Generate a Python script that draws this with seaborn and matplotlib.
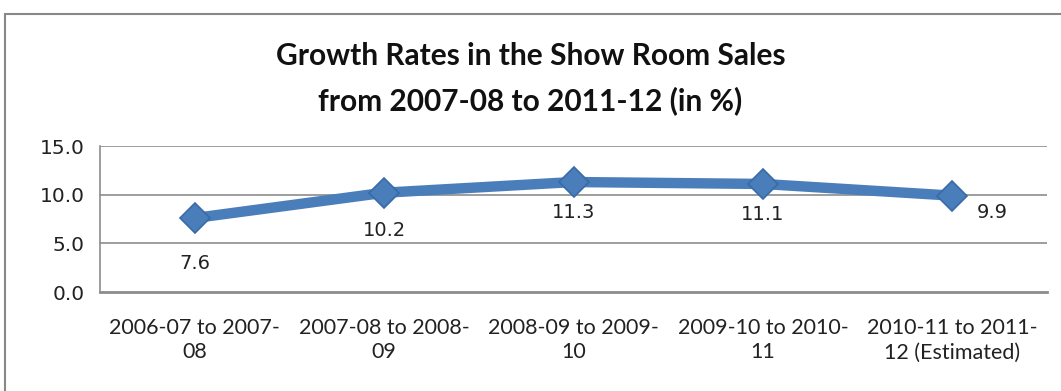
import pandas as pd
import seaborn as sns
import matplotlib.pyplot as plt
from matplotlib.patches import Rectangle

periods = ['2006-07 to 2007-\n08', '2007-08 to 2008-\n09', '2008-09 to 2009-\n10',
           '2009-10 to 2010-\n11', '2010-11 to 2011-\n12 (Estimated)']
growth = [7.6, 10.2, 11.3, 11.1, 9.9]
y_ticks = [0.0, 5.0, 10.0, 15.0]

data = pd.DataFrame({'period': periods, 'growth': growth})
data['pos'] = range(len(data))

sns.set_style('white')
plt.rcParams['font.family'] = ['DejaVu Sans']

fig = plt.figure(figsize=(10.61, 3.91), dpi=100)
ax = fig.add_axes([100 / 1061, 1 - 292 / 391, 947 / 1061, 146 / 391])

for y in y_ticks[1:]:
    ax.axhline(y, color='#8c8c8c', lw=1.2, zorder=0)

sns.lineplot(data=data, x='pos', y='growth', ax=ax, color='#4a7ebb', lw=7.5,
             marker='D', markersize=15, markeredgecolor='#3a6aa8', markeredgewidth=1.2,
             solid_capstyle='round', zorder=3)

# value labels (offsets in points, as Excel placed them)
label_offsets = [(0, -33), (0, -27), (0, -22), (0, -22), (29, -12)]
for i, v in enumerate(growth):
    dx, dy = label_offsets[i]
    ax.annotate(f'{v:.1f}', (i, v), xytext=(dx, dy), textcoords='offset points',
                ha='center', va='center', fontsize=14, color='#222222')

ax.set_xlim(-0.5, len(growth) - 0.5)
ax.set_ylim(0, 15)
ax.set_yticks(y_ticks)
ax.set_yticklabels([f'{t:.1f}' for t in y_ticks], fontsize=14.5, color='#222222')
ax.set_xticks(data['pos'])
ax.set_xticklabels(periods, fontsize=15.5, color='#222222', family='Lato', linespacing=1.25)
ax.set_xticks([p + 0.5 for p in range(-1, len(growth))], minor=True)
ax.tick_params(axis='x', which='major', length=0, pad=19)
ax.tick_params(axis='x', which='minor', length=5, color='#8c8c8c', width=1.2, direction='out')
ax.tick_params(axis='y', length=5, color='#8c8c8c', width=1.2, direction='out', pad=6)
ax.set_xlabel('')
ax.set_ylabel('')

for side in ['top', 'right']:
    ax.spines[side].set_visible(False)
ax.spines['left'].set_color('#8c8c8c')
ax.spines['left'].set_linewidth(1.2)
ax.spines['bottom'].set_color('#8c8c8c')
ax.spines['bottom'].set_linewidth(2)

fig.text(0.5, 1 - 56 / 391, 'Growth Rates in the Show Room Sales', ha='center', va='center',
         fontsize=21.5, fontweight='bold', family='Lato', color='#111111')
fig.text(0.5, 1 - 101 / 391, 'from 2007-08 to 2011-12 (in %)', ha='center', va='center',
         fontsize=21.5, fontweight='bold', family='Lato', color='#111111')

fig.patches.append(Rectangle((5 / 1061, -0.1), 1.2, 1 - 14 / 391 + 0.1,
                             transform=fig.transFigure, fill=False,
                             edgecolor='#888888', lw=1.5))

fig.savefig('out.png', dpi=100)
